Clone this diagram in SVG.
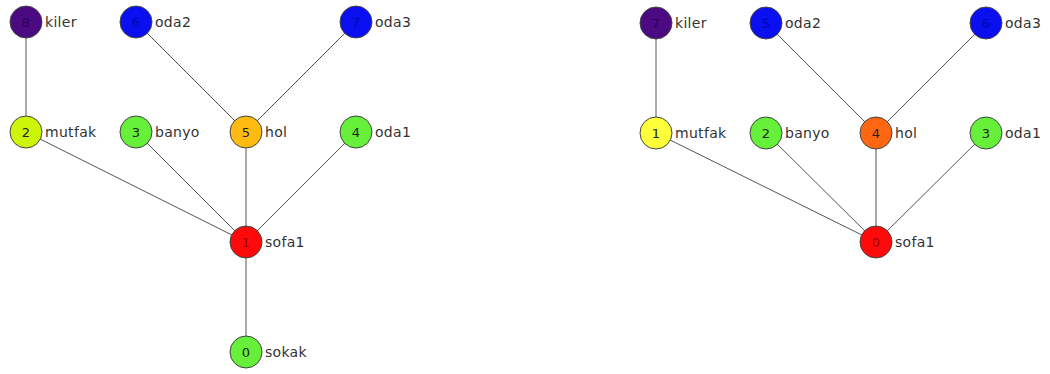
<svg xmlns="http://www.w3.org/2000/svg" width="1050" height="374" viewBox="0 0 1050 374">
<style>
.bg{fill:#ffffff}
.e{stroke:#555555;stroke-width:1;fill:none}
.n{stroke:#444444;stroke-width:1}
.d{font-family:"DejaVu Sans",Verdana,sans-serif;font-size:13px;fill:#222222;text-anchor:middle;dominant-baseline:central}
.dp{fill:#2e0058}
.db{fill:#0008a8}
.dr{fill:#a00000}
.l{font-family:"DejaVu Sans",Verdana,sans-serif;font-size:14px;letter-spacing:0.3px;fill:#333333;dominant-baseline:central}
.purple{fill:#4b0a82}
.blue{fill:#0a0ff0}
.lime{fill:#ccf50a}
.green{fill:#66f03a}
.amber{fill:#ffbb11}
.red{fill:#ff0a0a}
.yellow{fill:#ffff3a}
.orange{fill:#ff6611}
</style>
<rect class="bg" x="0" y="0" width="1050" height="374"/>
<g id="connectors">
<line class="e" x1="26" y1="22" x2="26" y2="132"/>
<line class="e" x1="136" y1="22" x2="246" y2="132"/>
<line class="e" x1="356" y1="22" x2="246" y2="132"/>
<line class="e" x1="26" y1="132" x2="246" y2="242"/>
<line class="e" x1="136" y1="132" x2="246" y2="242"/>
<line class="e" x1="246" y1="132" x2="246" y2="242"/>
<line class="e" x1="356" y1="132" x2="246" y2="242"/>
<line class="e" x1="246" y1="242" x2="246" y2="352"/>
<line class="e" x1="656" y1="23" x2="656" y2="133"/>
<line class="e" x1="766" y1="23" x2="876" y2="133"/>
<line class="e" x1="986" y1="23" x2="876" y2="133"/>
<line class="e" x1="656" y1="133" x2="876" y2="242"/>
<line class="e" x1="766" y1="133" x2="876" y2="242"/>
<line class="e" x1="876" y1="133" x2="876" y2="242"/>
<line class="e" x1="986" y1="133" x2="876" y2="242"/>
</g>
<g id="L-kiler"><circle class="n purple" cx="26" cy="22" r="16"/><text class="d dp" x="26" y="22">8</text><text class="l" x="45" y="22">kiler</text></g>
<g id="L-oda2"><circle class="n blue" cx="136" cy="22" r="16"/><text class="d db" x="136" y="22">6</text><text class="l" x="155" y="22">oda2</text></g>
<g id="L-oda3"><circle class="n blue" cx="356" cy="22" r="16"/><text class="d db" x="356" y="22">7</text><text class="l" x="375" y="22">oda3</text></g>
<g id="L-mutfak"><circle class="n lime" cx="26" cy="132" r="16"/><text class="d" x="26" y="132">2</text><text class="l" x="45" y="132">mutfak</text></g>
<g id="L-banyo"><circle class="n green" cx="136" cy="132" r="16"/><text class="d" x="136" y="132">3</text><text class="l" x="155" y="132">banyo</text></g>
<g id="L-hol"><circle class="n amber" cx="246" cy="132" r="16"/><text class="d" x="246" y="132">5</text><text class="l" x="265" y="132">hol</text></g>
<g id="L-oda1"><circle class="n green" cx="356" cy="132" r="16"/><text class="d" x="356" y="132">4</text><text class="l" x="375" y="132">oda1</text></g>
<g id="L-sofa1"><circle class="n red" cx="246" cy="242" r="16"/><text class="d dr" x="246" y="242">1</text><text class="l" x="265" y="242">sofa1</text></g>
<g id="L-sokak"><circle class="n green" cx="246" cy="352" r="16"/><text class="d" x="246" y="352">0</text><text class="l" x="265" y="352">sokak</text></g>
<g id="R-kiler"><circle class="n purple" cx="656" cy="23" r="16"/><text class="d dp" x="656" y="23">7</text><text class="l" x="675" y="23">kiler</text></g>
<g id="R-oda2"><circle class="n blue" cx="766" cy="23" r="16"/><text class="d db" x="766" y="23">5</text><text class="l" x="785" y="23">oda2</text></g>
<g id="R-oda3"><circle class="n blue" cx="986" cy="23" r="16"/><text class="d db" x="986" y="23">6</text><text class="l" x="1005" y="23">oda3</text></g>
<g id="R-mutfak"><circle class="n yellow" cx="656" cy="133" r="16"/><text class="d" x="656" y="133">1</text><text class="l" x="675" y="133">mutfak</text></g>
<g id="R-banyo"><circle class="n green" cx="766" cy="133" r="16"/><text class="d" x="766" y="133">2</text><text class="l" x="785" y="133">banyo</text></g>
<g id="R-hol"><circle class="n orange" cx="876" cy="133" r="16"/><text class="d" x="876" y="133">4</text><text class="l" x="895" y="133">hol</text></g>
<g id="R-oda1"><circle class="n green" cx="986" cy="133" r="16"/><text class="d" x="986" y="133">3</text><text class="l" x="1005" y="133">oda1</text></g>
<g id="R-sofa1"><circle class="n red" cx="876" cy="242" r="16"/><text class="d dr" x="876" y="242">0</text><text class="l" x="895" y="242">sofa1</text></g>
</svg>
